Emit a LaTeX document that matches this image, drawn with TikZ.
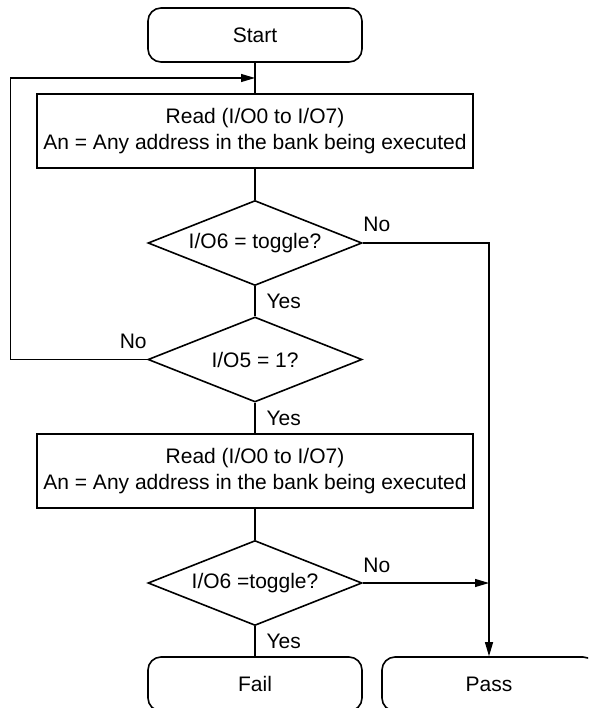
\documentclass[tikz,border=0pt]{standalone}
\usepackage{fontspec}
\setmainfont{Liberation Sans}
\usetikzlibrary{arrows.meta,calc,positioning,shapes.geometric}

\begin{document}
\begin{tikzpicture}[x=1pt,y=-1pt,node distance=100pt,on grid,>={Triangle[length=14pt,width=8pt]},
		every node/.style={font=\fontsize{21}{26}\selectfont},
		term/.style={draw,line width=1.6pt,rounded corners=13pt,minimum width=214pt,minimum height=54pt},
		proc/.style={draw,line width=1.6pt,align=center,minimum width=436pt,minimum height=74pt},
		test/.style={draw,line width=1.6pt,diamond,aspect=2.5,inner sep=0pt,minimum width=214pt,minimum height=85pt},
		flow/.style={line width=1.1pt},
		lbl/.style={inner sep=0pt}]
		\useasboundingbox (0,0) rectangle (588,708);
		\clip (0,0) rectangle (588,708);
		\node[term] (start) at (255,35) {Start};
		\node[proc] (read_1) [below=96pt of start] {Read (I/O0 to I/O7)\\An = Any address in the bank being executed};
		\node[test] (dec_1) [below=112pt of read_1] {I/O6 = toggle?};
		\node[test] (dec_2) [below=116.5pt of dec_1] {I/O5 = 1?};
		\node[proc] (read_2) [below=111.5pt of dec_2] {Read (I/O0 to I/O7)\\An = Any address in the bank being executed};
		\node[test] (dec_3) [below=112pt of read_2] {I/O6 =toggle?};
		\node[term] (fail) [below=101pt of dec_3] {Fail};
		\node[term] (pass) [right=234pt of fail] {Pass};
		\coordinate (join) at ($(start.south)!.5!(read_1.north)$);
		\coordinate (merge) at (dec_3.east -| pass.north);
		\path[flow] (start) edge (read_1)
			(read_1) edge (dec_1)
			(dec_1) edge node[lbl,right=11pt] {Yes} (dec_2)
			(dec_2) edge node[lbl,right=11pt] {Yes} (read_2)
			(read_2) edge (dec_3)
			(dec_3) edge node[lbl,right=11pt] {Yes} (fail);
		\draw[flow,->] (dec_2.west) node[lbl,anchor=base east,yshift=11pt] {No} -- ++(-137pt,0) |- (join);
		\draw[flow,->] (dec_1.east) node[lbl,anchor=base west,yshift=11pt] {No} -| (pass.north);
		\draw[flow,->] (dec_3.east) node[lbl,anchor=base west,yshift=11pt] {No} -- (merge);
	\end{tikzpicture}
\end{document}
